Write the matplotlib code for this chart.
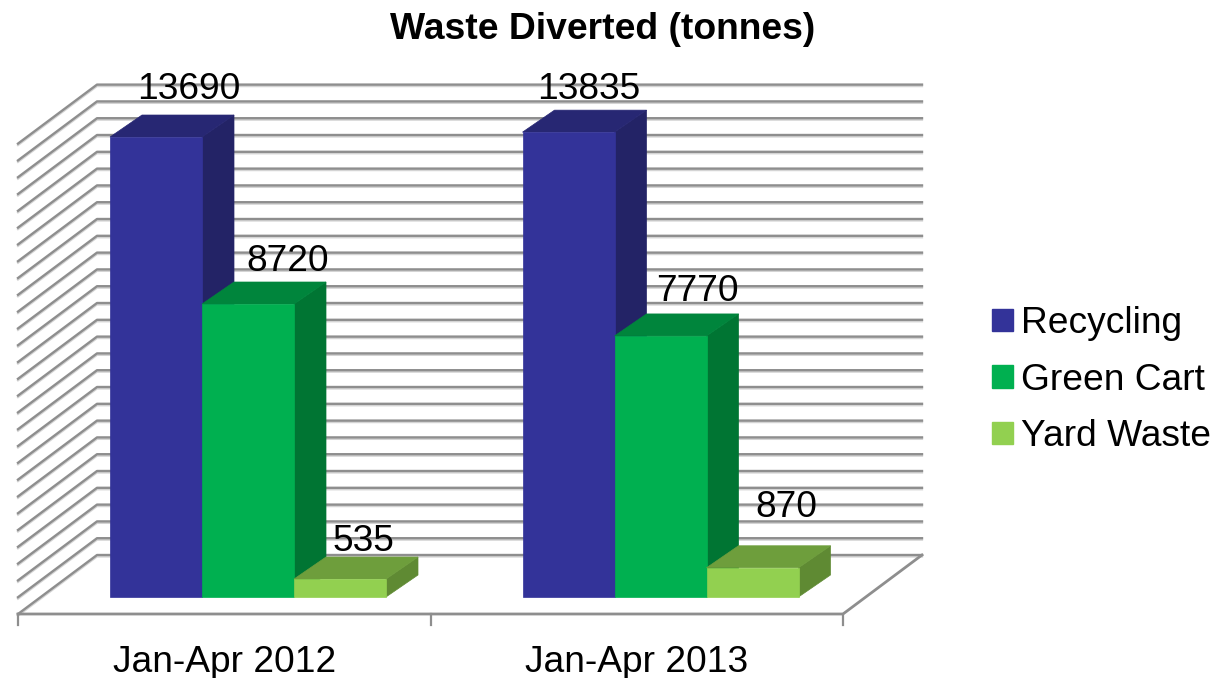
"""Waste diverted: fake-3D clustered columns drawn on a plain 2D axes."""

import matplotlib

matplotlib.use("Agg")
import matplotlib.pyplot as plt
import numpy as np
from matplotlib.patches import Patch, Polygon

CATEGORIES = ["Jan-Apr 2012", "Jan-Apr 2013"]
SERIES = ["Recycling", "Green Cart", "Yard Waste"]
RECYCLING = [13690, 13835]
GREEN_CART = [8720, 7770]
YARD_WASTE = [535, 870]
GRID_VALUES = np.arange(0, 14001, 500)

# face colours per series: front, top, side
COLORS = [
    ("#333399", "#272773", "#232366"),
    ("#00B050", "#00853C", "#007533"),
    ("#92D050", "#6E9E3C", "#5F8A33"),
]
GRID = "#8E8E8E"
GRID_SOFT = "#D4D4D4"

# pixel layout of the reference
WIDTH, HEIGHT = 1220, 678
PX_PER_CAT = 412.5
PX_PER_TONNE = 0.0336
ZERO_X, ZERO_Y = 248, 597
BAR_W = 92 / PX_PER_CAT
DEPTH_X, DEPTH_Y = 32, 22  # bar depth
FLOOR_LEFT, FLOOR_RIGHT = 18, 843
FLOOR_FRONT = 614
BACK_DX, BACK_DY = 79, 59
FONT_SIZE = 26.7

# hand placed data labels, (dx, dy) in pixels from bar top centre
LABEL_OFFSETS = [
    [(33, 48), (20, 43)],
    [(40, 43), (37, 44)],
    [(23, 38), (34, 60)],
]


def xd(px):
    return (px - ZERO_X) / PX_PER_CAT


def yd(py):
    return (ZERO_Y - py) / PX_PER_TONNE


def dx(px):
    return px / PX_PER_CAT


def dy(px):
    return px / PX_PER_TONNE


def draw_bar(ax, left, value, colors):
    right = left + BAR_W
    ox, oy = dx(DEPTH_X), dy(DEPTH_Y)
    front = [(left, 0), (right, 0), (right, value), (left, value)]
    top = [(left, value), (right, value), (right + ox, value + oy), (left + ox, value + oy)]
    side = [(right, 0), (right + ox, oy), (right + ox, value + oy), (right, value)]
    for pts, color in zip((side, top, front), (colors[2], colors[1], colors[0])):
        ax.add_patch(Polygon(pts, closed=True, facecolor=color, edgecolor=color, lw=0.5, zorder=3))


def main():
    plt.rcParams["font.family"] = ["Liberation Sans", "DejaVu Sans"]
    fig = plt.figure(figsize=(WIDTH / 100, HEIGHT / 100), dpi=100)
    ax = fig.add_axes([0, 0, 1, 1])
    ax.set_xlim(xd(0), xd(WIDTH))
    ax.set_ylim(yd(HEIGHT), yd(0))
    ax.axis("off")

    # walls: side wall runs to the front-left corner, back wall across
    back_zero = yd(FLOOR_FRONT - BACK_DY)
    for v in GRID_VALUES:
        wall_y = back_zero + v
        xs = [xd(FLOOR_LEFT), xd(FLOOR_LEFT + BACK_DX), xd(FLOOR_RIGHT + BACK_DX)]
        ys = [wall_y - dy(BACK_DY), wall_y, wall_y]
        ax.plot(xs, [y - dy(1.5) for y in ys], color=GRID_SOFT, lw=1.6, zorder=1)
        ax.plot(xs, ys, color=GRID, lw=1.7, zorder=1.5)

    # floor outline and ticks
    front_y = yd(FLOOR_FRONT)
    ax.plot([xd(FLOOR_LEFT), xd(FLOOR_RIGHT), xd(FLOOR_RIGHT + BACK_DX)],
            [front_y, front_y, back_zero], color=GRID, lw=2.0, zorder=2)
    tick_px = FLOOR_LEFT + np.arange(len(CATEGORIES) + 1) * PX_PER_CAT
    for t in tick_px:
        ax.plot([xd(t), xd(t)], [front_y, yd(FLOOR_FRONT + 11)], color=GRID, lw=1.6, zorder=2)

    # columns
    values = [RECYCLING, GREEN_CART, YARD_WASTE]
    for s, series in enumerate(values):
        for c, v in enumerate(series):
            left = c + (s - 1.5) * BAR_W
            draw_bar(ax, left, v, COLORS[s])
            off = LABEL_OFFSETS[s][c]
            ax.annotate(str(v), xy=(left + BAR_W / 2, v), xytext=off, textcoords="offset pixels",
                        ha="center", va="center", fontsize=FONT_SIZE, color="black", zorder=5)

    # category labels sit under the middle of each floor slot
    for c, name in enumerate(CATEGORIES):
        ax.text(xd((tick_px[c] + tick_px[c + 1]) / 2), yd(662), name, ha="center", va="center",
                fontsize=FONT_SIZE, color="black")

    ax.text(xd(602.5), yd(29), "Waste Diverted (tonnes)", ha="center", va="center",
            fontsize=26.8, fontweight="bold", color="black")

    handles = [Patch(facecolor=c[0], edgecolor=c[0]) for c in COLORS]
    ax.legend(handles, SERIES, loc="center left", bbox_to_anchor=(992 / WIDTH, 1 - 380 / HEIGHT),
              frameon=False, fontsize=FONT_SIZE, handlelength=0.56, handleheight=0.56, handletextpad=0.21,
              labelspacing=0.58, borderpad=0, borderaxespad=0)

    fig.savefig("out.png", dpi=100)


if __name__ == "__main__":
    main()
